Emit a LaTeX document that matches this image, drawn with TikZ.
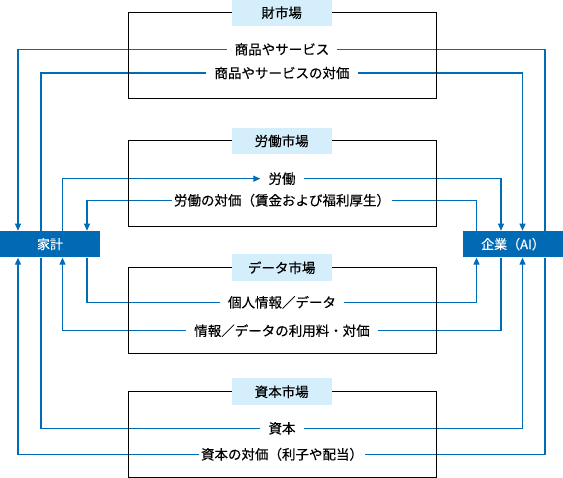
\documentclass[tikz,border=0pt]{standalone}
\usepackage{fontspec}
\setmainfont{Noto Sans CJK JP}[FakeBold=0.4]
\usetikzlibrary{arrows.meta}
\definecolor{flowblue}{RGB}{0,108,183}
\definecolor{boxblue}{RGB}{0,106,180}
\definecolor{labelblue}{RGB}{212,238,251}
\begin{document}
\begin{tikzpicture}[x=1pt,y=-1pt,
  flow/.style={draw=flowblue,line width=1.1pt},
  arr/.style={flow,-{Triangle[length=7pt,width=6pt]}},
  market/.style={draw=black,line width=1.1pt,minimum width=307.6pt,minimum height=86pt,inner sep=0pt},
  mlabel/.style={fill=labelblue,minimum width=100pt,minimum height=26.7pt,inner sep=0pt,font=\fontsize{13.5}{16}\selectfont},
  agent/.style={fill=boxblue,text=white,minimum width=100pt,minimum height=26.5pt,inner sep=0pt,font=\fontsize{13}{16}\selectfont},
  flabel/.style={inner xsep=8pt,inner ysep=2pt,font=\fontsize{13.5}{16}\selectfont}]
\useasboundingbox (0,0) rectangle (563,478);

% agents
\node[agent] (hh) at (50,244.2) {家計};
\node[agent] (fi) at (513,244.2) {企業（AI）};

% flow labels
\node[flabel] (t1) at (282,49.3) {商品やサービス};
\node[flabel] (t2) at (282,73) {商品やサービスの対価};
\node[flabel] (t3) at (282,178.7) {労働};
\node[flabel,inner xsep=1.5pt] (t4) at (282,200.3) {労働の対価（賃金および福利厚生）};
\node[flabel] (t5) at (282,302.3) {個人情報／データ};
\node[flabel] (t6) at (282,330.7) {情報／データの利用料・対価};
\node[flabel] (t7) at (282,428.3) {資本};
\node[flabel,inner xsep=1.5pt] (t8) at (282,454.3) {資本の対価（利子や配当）};

% flows
\draw[flow] ([xshift=32pt]fi.north) |- (t1.east);
\draw[arr] (t1.west) -| ([xshift=-32pt]hh.north);
\draw[flow] ([xshift=-9pt]hh.north) |- (t2.west);
\draw[arr] (t2.east) -| ([xshift=9.5pt]fi.north);
\draw[arr] ([xshift=12.5pt]hh.north) |- (t3.west);
\draw[arr] (t3.east) -| ([xshift=-12pt]fi.north);
\draw[flow] ([xshift=-36.5pt]fi.north) |- (t4.east);
\draw[arr] (t4.west) -| ([xshift=37pt]hh.north);
\draw[flow] ([xshift=37pt]hh.south) |- (t5.west);
\draw[arr] (t5.east) -| ([xshift=-36.5pt]fi.south);
\draw[flow] ([xshift=-12pt]fi.south) |- (t6.east);
\draw[arr] (t6.west) -| ([xshift=12.5pt]hh.south);
\draw[flow] ([xshift=-9pt]hh.south) |- (t7.west);
\draw[arr] (t7.east) -| ([xshift=9.5pt]fi.south);
\draw[flow] ([xshift=32pt]fi.south) |- (t8.east);
\draw[arr] (t8.west) -| ([xshift=-32pt]hh.south);

% markets
\node[market] (m1) at (282.4,55.3) {};
\node[market] (m2) at (282.4,183.5) {};
\node[market] (m3) at (282.4,310.3) {};
\node[market] (m4) at (282.4,434.3) {};
\node[mlabel] (l1) at ([xshift=-0.7pt,yshift=-1pt]m1.north) {財市場};
\node[mlabel] (l2) at ([xshift=-0.7pt,yshift=-1pt]m2.north) {労働市場};
\node[mlabel] (l3) at ([xshift=-0.7pt,yshift=-1pt]m3.north) {データ市場};
\node[mlabel] (l4) at ([xshift=-0.7pt,yshift=-1pt]m4.north) {資本市場};
\end{tikzpicture}
\end{document}
